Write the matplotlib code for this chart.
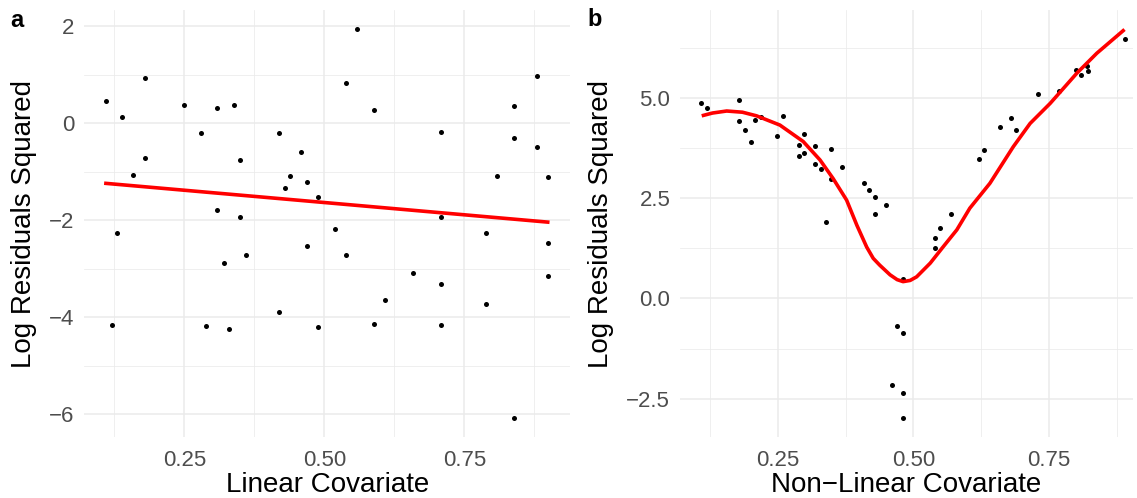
import numpy as np
import matplotlib
matplotlib.use("Agg")
import matplotlib.pyplot as plt
from matplotlib.ticker import FixedLocator, FuncFormatter

# panel a: linear covariate vs log residuals squared
lin_x = [0.110, 0.180, 0.139, 0.249, 0.309, 0.339, 0.280, 0.419, 0.180, 0.349,
         0.459, 0.159, 0.439, 0.469, 0.429, 0.489, 0.309, 0.349, 0.130, 0.519,
         0.469, 0.559, 0.539, 0.589, 0.879, 0.839, 0.709, 0.839, 0.879, 0.809,
         0.899, 0.709, 0.789, 0.899, 0.320, 0.360, 0.419, 0.120, 0.289, 0.330,
         0.489, 0.539, 0.659, 0.709, 0.899, 0.609, 0.789, 0.589, 0.709, 0.839]
lin_y = [0.47, 0.94, 0.13, 0.37, 0.31, 0.37, -0.21, -0.20, -0.72, -0.75,
         -0.59, -1.06, -1.09, -1.21, -1.34, -1.52, -1.79, -1.93, -2.27, -2.18,
         -2.53, 1.95, 0.84, 0.27, 0.98, 0.36, -0.17, -0.31, -0.48, -1.09,
         -1.10, -1.94, -2.26, -2.47, -2.88, -2.71, -3.90, -4.16, -4.18, -4.25,
         -4.20, -2.71, -3.10, -3.31, -3.15, -3.65, -3.72, -4.14, -4.17, -6.08]
lin_fit_x = [0.110, 0.899]
lin_fit_y = [-1.24, -2.04]

# panel b: non-linear covariate
nl_x = [0.109, 0.120, 0.179, 0.179, 0.190, 0.200, 0.209, 0.220, 0.249, 0.260,
        0.289, 0.299, 0.289, 0.299, 0.319, 0.319, 0.329, 0.349, 0.349, 0.369,
        0.409, 0.419, 0.429, 0.429, 0.450, 0.339, 0.889, 0.799, 0.809, 0.819,
        0.821, 0.768, 0.729, 0.679, 0.659, 0.689, 0.630, 0.620, 0.569, 0.549,
        0.539, 0.539, 0.480, 0.469, 0.480, 0.460, 0.480, 0.480]
nl_y = [4.86, 4.74, 4.94, 4.41, 4.20, 3.90, 4.45, 4.53, 4.05, 4.54,
        3.83, 4.10, 3.54, 3.62, 3.80, 3.36, 3.22, 3.72, 2.98, 3.28,
        2.87, 2.69, 2.52, 2.10, 2.33, 1.90, 6.47, 5.69, 5.57, 5.78,
        5.66, 5.18, 5.09, 4.49, 4.27, 4.19, 3.69, 3.47, 2.10, 1.75,
        1.50, 1.27, 0.48, -0.69, -0.86, -2.16, -2.35, -2.97]
# loess curve
smooth_x = [0.110, 0.130, 0.156, 0.185, 0.211, 0.254, 0.297, 0.328, 0.352, 0.377,
            0.396, 0.414, 0.426, 0.438, 0.457, 0.470, 0.481, 0.494, 0.506, 0.531,
            0.555, 0.580, 0.604, 0.641, 0.684, 0.715, 0.752, 0.801, 0.838, 0.889]
smooth_y = [4.55, 4.62, 4.67, 4.64, 4.55, 4.32, 3.91, 3.45, 2.99, 2.45,
            1.82, 1.28, 1.00, 0.83, 0.59, 0.47, 0.42, 0.45, 0.54, 0.88,
            1.29, 1.71, 2.25, 2.87, 3.78, 4.36, 4.86, 5.61, 6.11, 6.70]

x_ticks = [0.25, 0.50, 0.75]
x_minor = [0.125, 0.375, 0.625, 0.875]
a_yticks = [-6, -4, -2, 0, 2]
a_yminor = [-5, -3, -1, 1]
b_yticks = [-2.5, 0.0, 2.5, 5.0]
b_yminor = [-1.25, 1.25, 3.75, 6.25]

plt.rcParams['font.family'] = ['Liberation Sans', 'DejaVu Sans']
plt.rcParams['axes.unicode_minus'] = True

fig = plt.figure(figsize=(11.37, 4.98), dpi=100)
W, H = 1137.0, 498.0
ax1 = fig.add_axes([84.3 / W, 61 / H, (570 - 84.3) / W, 427 / H])
ax2 = fig.add_axes([680 / W, 61 / H, (1133 - 680) / W, 427 / H])


def style(ax, yt, ym, fmt, ylab_x):
    for s in ax.spines.values():
        s.set_visible(False)
    ax.xaxis.set_major_locator(FixedLocator(x_ticks))
    ax.xaxis.set_minor_locator(FixedLocator(x_minor))
    ax.yaxis.set_major_locator(FixedLocator(yt))
    ax.yaxis.set_minor_locator(FixedLocator(ym))
    ax.xaxis.set_major_formatter(FuncFormatter(lambda v, p: "%.2f" % v))
    ax.yaxis.set_major_formatter(FuncFormatter(fmt))
    ax.grid(which='major', color='#EBEBEB', lw=1.1)
    ax.grid(which='minor', color='#EBEBEB', lw=0.55)
    ax.set_axisbelow(True)
    ax.tick_params(which='both', length=0)
    ax.tick_params(axis='x', labelsize=16, labelcolor='#4D4D4D', pad=9)
    ax.tick_params(axis='y', labelsize=16, labelcolor='#4D4D4D', pad=7)
    ax.yaxis.set_label_coords(ylab_x, 0.5)
    ax.yaxis.label.set_va('center')
    ax.xaxis.set_label_coords(0.5, -0.112)
    ax.xaxis.label.set_va('center')


ax1.scatter(lin_x, lin_y, s=13, color='black', zorder=3, linewidths=0)
ax1.plot(lin_fit_x, lin_fit_y, color='#FF0000', lw=2.6, zorder=4)
ax1.set_xlim(0.0714, 0.9388)
ax1.set_ylim(-6.475, 2.338)
ax1.set_xlabel('Linear Covariate', fontsize=20)
ax1.set_ylabel('Log Residuals Squared', fontsize=20)
style(ax1, a_yticks, a_yminor,
      lambda v, p: ("%d" % v).replace('-', '\u2212'), -0.124)

ax2.scatter(nl_x, nl_y, s=13, color='black', zorder=3, linewidths=0)
ax2.plot(smooth_x, smooth_y, color='#FF0000', lw=2.6, zorder=4,
         solid_joinstyle='round', solid_capstyle='butt')
ax2.set_xlim(0.070, 0.9046)
ax2.set_ylim(-3.45, 7.186)
ax2.set_xlabel('Non\u2212Linear Covariate', fontsize=20)
ax2.set_ylabel('Log Residuals Squared', fontsize=20)
style(ax2, b_yticks, b_yminor,
      lambda v, p: ("%.1f" % v).replace('-', '\u2212'), -0.174)

fig.text(17 / W, 1 - 20 / H, 'a', fontsize=17, fontweight='bold',
         ha='center', va='center')
fig.text(595 / W, 1 - 19 / H, 'b', fontsize=17, fontweight='bold',
         ha='center', va='center')

fig.savefig('out.png', dpi=100, facecolor='white')
